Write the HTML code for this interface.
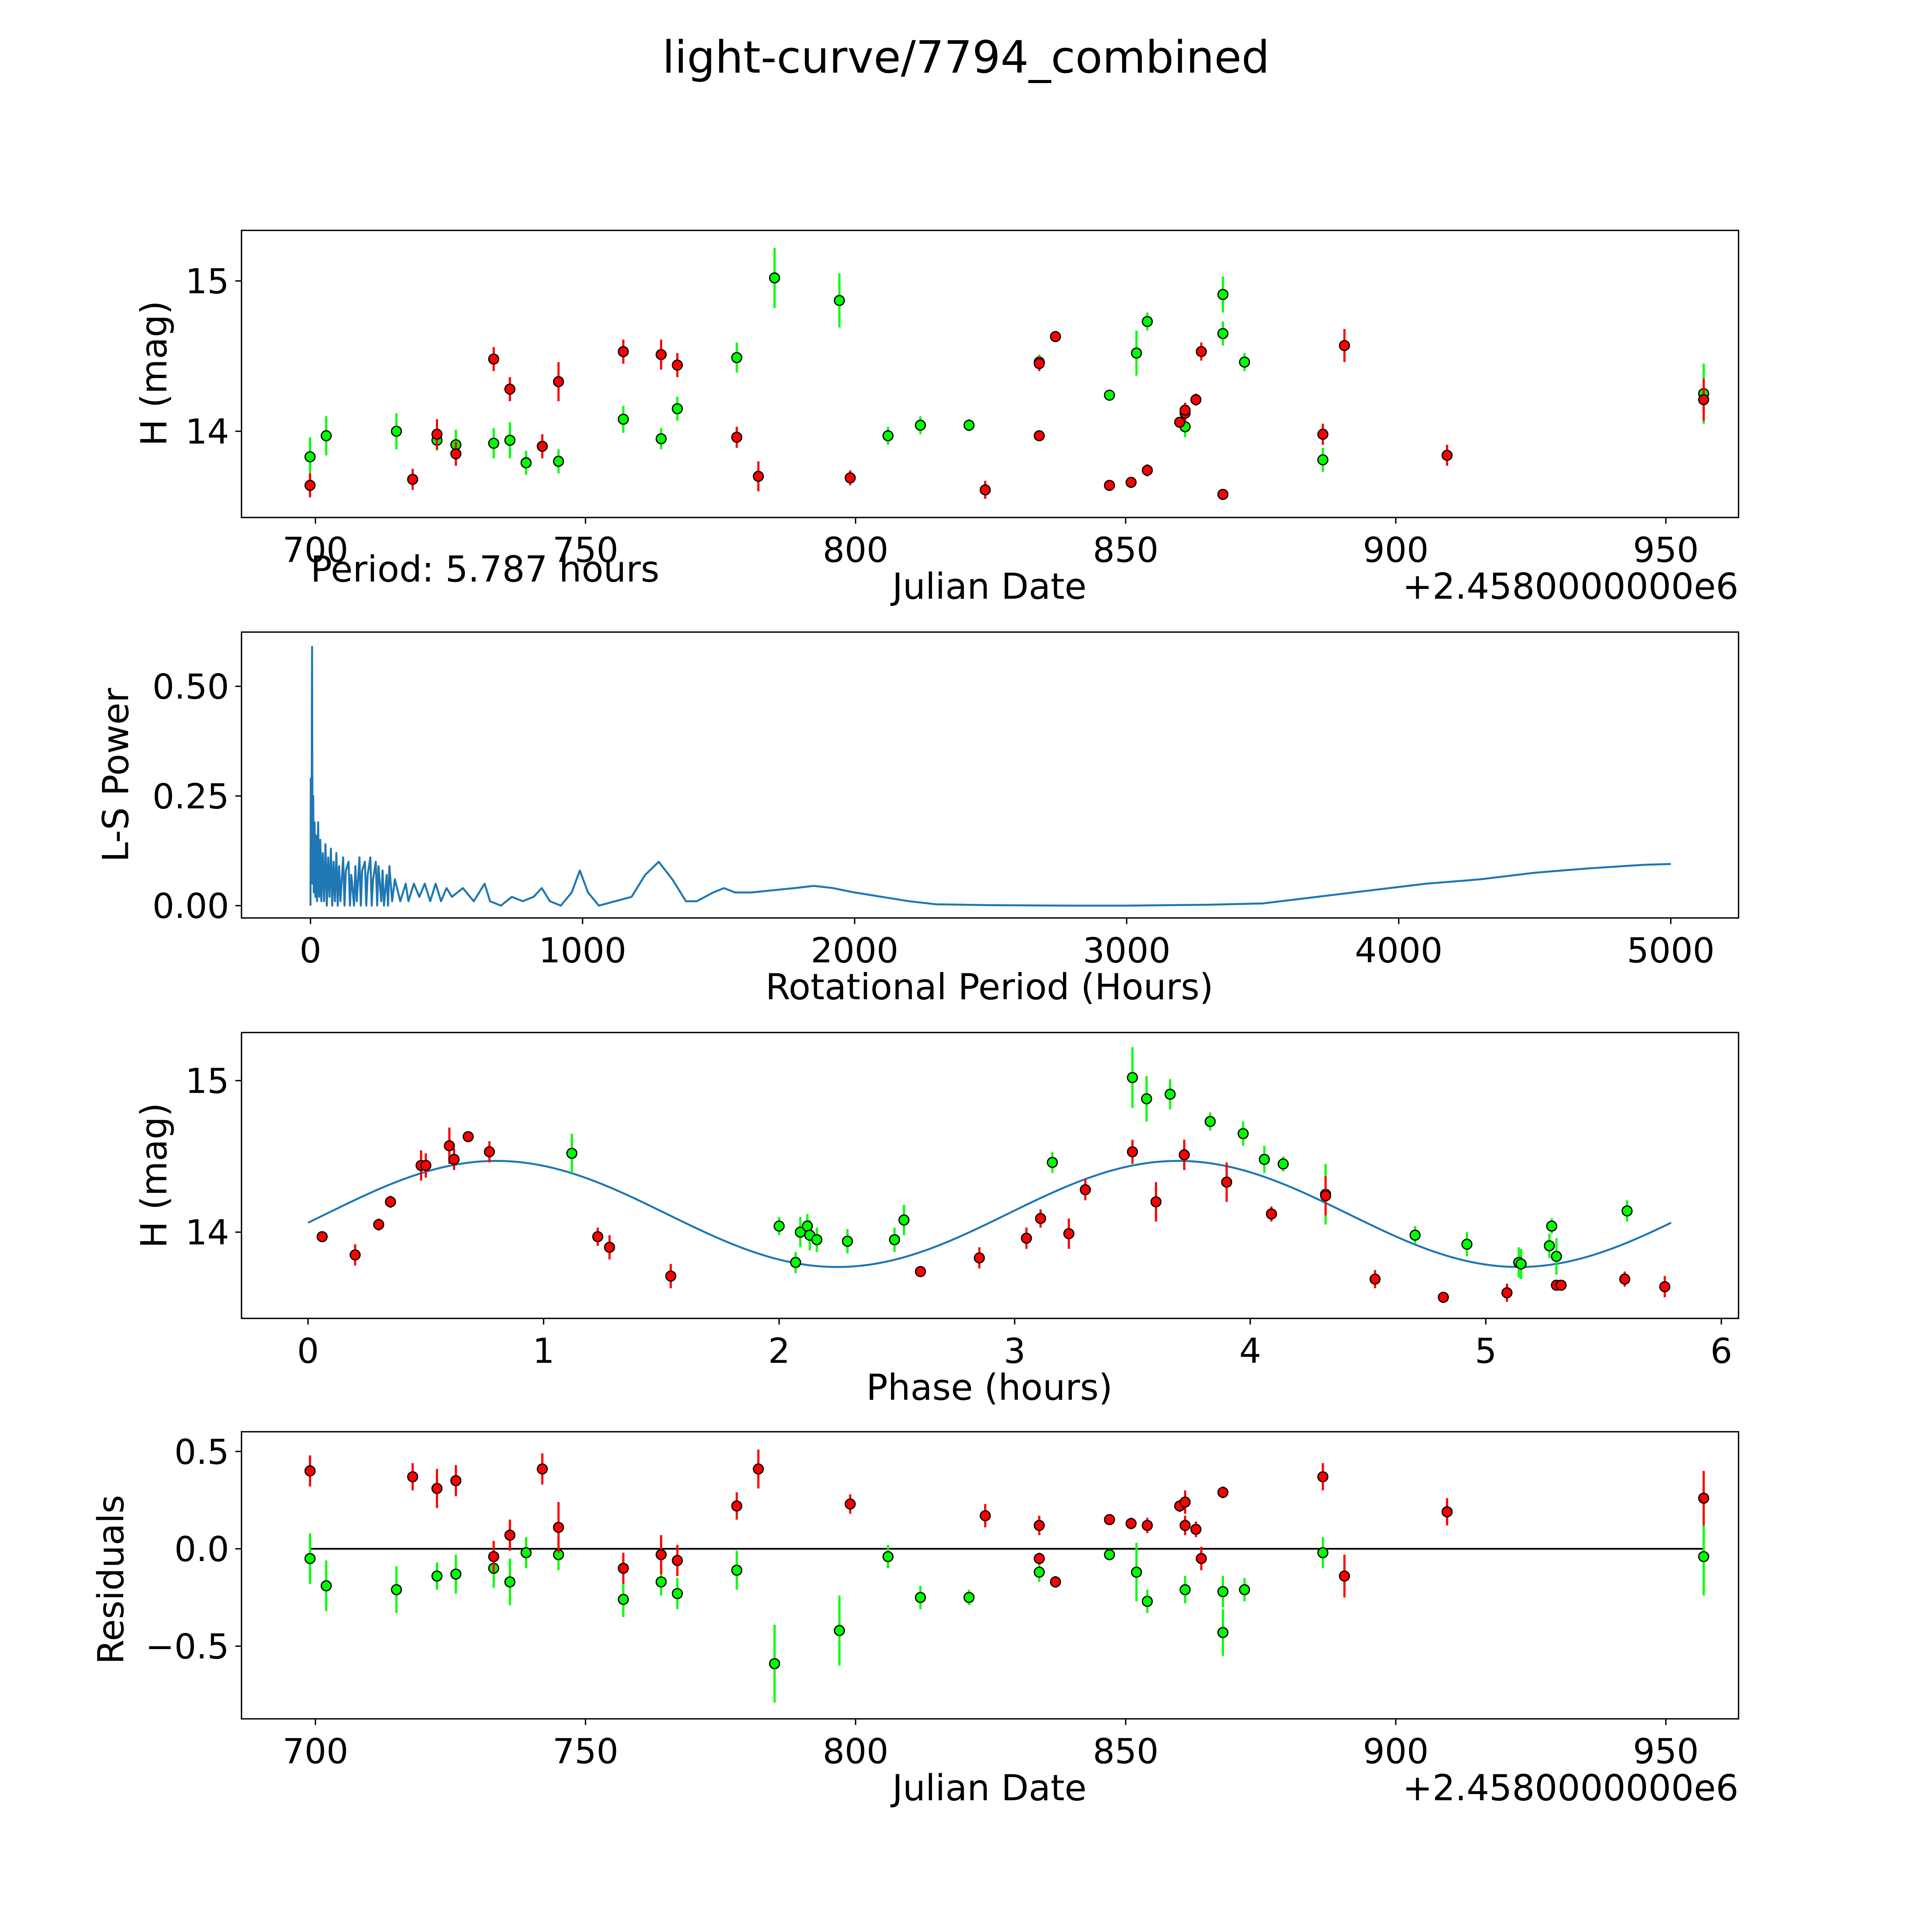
<!DOCTYPE html>
<html><head><meta charset="utf-8"><style>html,body{margin:0;padding:0;background:#fff;overflow:hidden}svg{display:block;width:100vw;height:100vh}</style></head>
<body>
<svg id="chart" xmlns="http://www.w3.org/2000/svg" viewBox="0 0 1568 1568" preserveAspectRatio="none" font-family="'DejaVu Sans', 'Liberation Sans', sans-serif">
<rect width="1568" height="1568" fill="#fff"/>
<text x="784" y="59" font-size="36" text-anchor="middle">light-curve/7794_combined</text>
<g id="g1"></g><g id="g2"></g><g id="g3"></g><g id="g4"></g>
</svg>
<script>
// ---- data ----
const greenDate = [699,702,715,722.5,726,733,736,739,745,757,764,767,778,785,797,806,812,821,834,847,852,854,861,868,868,872,886.5,957];
const greenMag = [13.83,13.97,14.0,13.94,13.91,13.92,13.94,13.79,13.80,14.08,13.95,14.15,14.49,15.02,14.87,13.97,14.04,14.04,14.46,14.24,14.52,14.73,14.03,14.91,14.65,14.46,13.81,14.25];
const greenErr = [0.13,0.13,0.12,0.07,0.10,0.10,0.12,0.08,0.08,0.09,0.07,0.08,0.10,0.20,0.18,0.06,0.06,0.04,0.05,0.03,0.15,0.06,0.07,0.12,0.08,0.06,0.08,0.20];
const greenResid = [-0.05,-0.19,-0.21,-0.14,-0.13,-0.10,-0.17,-0.02,-0.03,-0.26,-0.17,-0.23,-0.11,-0.59,-0.42,-0.04,-0.25,-0.25,-0.12,-0.03,-0.12,-0.27,-0.21,-0.43,-0.22,-0.21,-0.02,-0.04];
const redDate = [699,718,722.5,726,733,736,742,745,757,764,767,778,782,799,824,834,834,837,847,851,854,860,861,861,863,864,868,886.5,890.5,909.5,957];
const redMag = [13.64,13.68,13.98,13.85,14.48,14.28,13.90,14.33,14.53,14.51,14.44,13.96,13.70,13.69,13.61,14.45,13.97,14.63,13.64,13.66,13.74,14.06,14.12,14.14,14.21,14.53,13.58,13.98,14.57,13.84,14.21];
const redErr = [0.08,0.07,0.10,0.08,0.08,0.08,0.08,0.13,0.08,0.10,0.08,0.07,0.10,0.05,0.06,0.05,0.03,0.03,0.02,0.03,0.04,0.03,0.06,0.05,0.04,0.06,0.03,0.07,0.11,0.07,0.14];
const redResid = [0.40,0.37,0.31,0.35,-0.04,0.07,0.41,0.11,-0.10,-0.03,-0.06,0.22,0.41,0.23,0.17,0.12,-0.05,-0.17,0.15,0.13,0.12,0.22,0.24,0.12,0.10,-0.05,0.29,0.37,-0.14,0.19,0.26];
const redPhase = [0.06,0.2,0.3,0.35,0.48,0.5,0.6,0.62,0.68,0.77,1.23,1.28,1.54,2.6,2.85,3.05,3.11,3.23,3.3,3.5,3.6,3.72,3.9,4.09,4.32,4.53,4.82,5.09,5.3,5.32,5.59,5.76];
const redPhaseMag = [13.97,13.85,14.05,14.2,14.44,14.44,14.57,14.48,14.63,14.53,13.97,13.9,13.71,13.74,13.83,13.96,14.09,13.99,14.28,14.53,14.2,14.51,14.33,14.12,14.24,13.69,13.57,13.6,13.65,13.65,13.69,13.64];
const redPhaseErr = [0.03,0.07,0.04,0.04,0.1,0.08,0.12,0.07,0.03,0.07,0.06,0.08,0.08,0.03,0.07,0.07,0.06,0.1,0.07,0.08,0.13,0.1,0.13,0.05,0.13,0.06,0.03,0.06,0.03,0.03,0.05,0.07];
const greenPhase = [1.12,2.0,2.07,2.09,2.12,2.13,2.16,2.29,2.49,2.53,3.16,3.5,3.56,3.66,3.83,3.97,4.06,4.14,4.32,4.7,4.92,5.14,5.15,5.27,5.28,5.3,5.6];
const greenPhaseMag = [14.52,14.04,13.8,14.0,14.04,13.98,13.95,13.94,13.95,14.08,14.46,15.02,14.88,14.91,14.73,14.65,14.48,14.45,14.25,13.98,13.92,13.8,13.79,13.91,14.04,13.84,14.14];
const greenPhaseErr = [0.13,0.06,0.07,0.1,0.08,0.1,0.08,0.08,0.08,0.1,0.07,0.2,0.15,0.1,0.06,0.08,0.09,0.05,0.2,0.06,0.08,0.1,0.1,0.08,0.05,0.12,0.07];
const fitMean = [14.12], fitAmp = [0.35], fitPeriod = [5.787/2], fitPhase = [-0.166];
const lsPeriod = [0,1,2,3,4,5,5.8,7,8,10,12,15,18,20,24,28,32,36,40,45,50,55,60,65,70,75,80,85,90,95,100,105,110,120,125,130,140,145,150,160,165,170,180,185,190,200,205,210,220,225,230,240,245,250,260,265,270,280,285,290,300,310,330,350,360,380,400,420,440,460,480,500,520,560,600,640,660,700,740,780,820,850,880,920,960,990,1020,1060,1120,1180,1230,1280,1330,1380,1420,1480,1520,1560,1620,1700,1780,1850,1920,2000,2100,2200,2300,2500,2800,3000,3300,3500,3700,3900,4100,4300,4500,4700,4900,5000];
const lsPower = [0,0.29,0.05,0.25,0.1,0.44,0.59,0.2,0.05,0.25,0.03,0.19,0.02,0.16,0.01,0.19,0.02,0.15,0.01,0.12,0.01,0.14,0.0,0.11,0.02,0.13,0.0,0.1,0.01,0.12,0.0,0.09,0.01,0.11,0.0,0.08,0.1,0.0,0.07,0.0,0.09,0.01,0.11,0.0,0.08,0.1,0.0,0.07,0.11,0.0,0.06,0.1,0.0,0.09,0.01,0.08,0.0,0.07,0.0,0.09,0.01,0.06,0.01,0.05,0.01,0.05,0.02,0.05,0.01,0.05,0.01,0.04,0.02,0.04,0.01,0.05,0.01,0.0,0.02,0.01,0.02,0.04,0.01,0.0,0.03,0.08,0.03,0.0,0.01,0.02,0.07,0.1,0.06,0.01,0.01,0.03,0.04,0.03,0.03,0.035,0.04,0.045,0.04,0.03,0.02,0.01,0.003,0.001,0.0,0.0,0.002,0.005,0.02,0.035,0.05,0.06,0.075,0.085,0.093,0.095];
const dateTicks = [700,750,800,850,900,950];
const magTicks = [14,15];
const lsXTicks = [0,1000,2000,3000,4000,5000];
const lsYTicks = [0,0.25,0.5];
const lsYLabels = ['0.00','0.25','0.50'];
const phaseTicks = [0,1,2,3,4,5,6];
const residTicks = [-0.5,0,0.5];
const residLabels = ['−0.5','0.0','0.5'];

const NS='http://www.w3.org/2000/svg';
function el(tag, attrs, parent, txt){const e=document.createElementNS(NS,tag);for(const k in attrs)e.setAttribute(k,attrs[k]);if(txt!==undefined)e.textContent=txt;parent.appendChild(e);return e;}
function lin(d0,d1,r0,r1){return v=>r0+(v-d0)*(r1-r0)/(d1-d0);}
const L=196,R=1411;

function frame(g,top,bot){
  const r=el('rect',{x:L,y:top,width:R-L,height:bot-top,fill:'none',stroke:'#000','stroke-width':1.1},g);
  
  
}
function xticks(g,ticks,labels,x,bot,name){
  ticks.forEach((t,i)=>{
    const px=x(t);
    el('line',{x1:px,x2:px,y1:bot,y2:bot+5,stroke:'#000','stroke-width':1.1},g);
    const tx=el('text',{x:px,y:bot+36,'font-size':28,'text-anchor':'middle'},g,labels?labels[i]:String(t));
    
    
  });
}
function yticks(g,ticks,labels,y,name){
  ticks.forEach((t,i)=>{
    const py=y(t);
    el('line',{x1:L-5,x2:L,y1:py,y2:py,stroke:'#000','stroke-width':1.1},g);
    const tx=el('text',{x:L-10,y:py+10,'font-size':28,'text-anchor':'end'},g,labels?labels[i]:String(t));
    
    
  });
}
function label(g,txt,x,y,rot,name){
  const t=el('text',{x:x,y:y,'font-size':29,'text-anchor':'middle',transform:rot?`rotate(-90 ${x} ${y})`:''},g,txt);
  
  
}
function points(g,xs,ys,es,col,x,y,name){
  xs.forEach((xv,i)=>{
    const px=x(xv);
    el('line',{x1:px,x2:px,y1:y(ys[i]-es[i]),y2:y(ys[i]+es[i]),stroke:col,'stroke-width':1.8},g);
  });
  xs.forEach((xv,i)=>{
    const c=el('circle',{cx:x(xv),cy:y(ys[i]),r:4,fill:col,stroke:'#000','stroke-width':1},g);
    
    
  });
}
const G='#00ff00',Rd='#ff0000';

// Panel 1
(function(){
  const g=document.getElementById('g1');
  
  
  const top=187,bot=420;
  const x=lin(700,950,256,1352), y=lin(14,15,350,228);
  points(g,greenDate,greenMag,greenErr,G,x,y,'green-point');
  points(g,redDate,redMag,redErr,Rd,x,y,'red-point');
  frame(g,top,bot);
  xticks(g,dateTicks,null,x,bot,'x');
  yticks(g,magTicks,null,y,'y');
  label(g,'Julian Date',803,486,false,'x-axis-title');
  const o=el('text',{x:R,y:486,'font-size':29,'text-anchor':'end'},g,'+2.4580000000e6');
  
  
  label(g,'H (mag)',135,303,true,'y-axis-title');
  const p=el('text',{x:252,y:472,'font-size':29},g,'Period: 5.787 hours');
  
  
})();

// Panel 2
(function(){
  const g=document.getElementById('g2');
  
  
  const top=513,bot=745;
  const x=lin(0,5000,252,1356), y=lin(0,0.5,735,557);
  const d=lsPeriod.map((p,i)=>(i?'L':'M')+x(p).toFixed(2)+' '+y(lsPower[i]).toFixed(2)).join(' ');
  const pth=el('path',{d:d,fill:'none',stroke:'#1f77b4','stroke-width':1.6,'stroke-linejoin':'round'},g);
  
  
  frame(g,top,bot);
  xticks(g,lsXTicks,null,x,bot,'x');
  yticks(g,lsYTicks,lsYLabels,y,'y');
  label(g,'Rotational Period (Hours)',803,811,false,'x-axis-title');
  label(g,'L-S Power',104,629,true,'y-axis-title');
})();

// Panel 3
(function(){
  const g=document.getElementById('g3');
  
  
  const top=838,bot=1070;
  const x=lin(0,6,250,1397), y=lin(14,15,1000,877);
  let d='';
  for(let i=0;i<=300;i++){const ph=5.787*i/300;const v=fitMean[0]+fitAmp[0]*Math.sin(2*Math.PI*ph/fitPeriod[0]+fitPhase[0]);d+=(i?'L':'M')+x(ph).toFixed(2)+' '+y(v).toFixed(2)+' ';}
  const pth=el('path',{d:d,fill:'none',stroke:'#1f77b4','stroke-width':1.6},g);
  
  
  points(g,greenPhase,greenPhaseMag,greenPhaseErr,G,x,y,'green-point');
  points(g,redPhase,redPhaseMag,redPhaseErr,Rd,x,y,'red-point');
  frame(g,top,bot);
  xticks(g,phaseTicks,null,x,bot,'x');
  yticks(g,magTicks,null,y,'y');
  label(g,'Phase (hours)',803,1136,false,'x-axis-title');
  label(g,'H (mag)',135,954,true,'y-axis-title');
})();

// Panel 4
(function(){
  const g=document.getElementById('g4');
  
  
  const top=1162,bot=1395;
  const x=lin(700,950,256,1352), y=lin(0,0.5,1257,1178);
  const zl=el('line',{x1:x(699),x2:x(957),y1:y(0),y2:y(0),stroke:'#000','stroke-width':1.4},g);
  
  
  points(g,greenDate,greenResid,greenErr,G,x,y,'green-residual');
  points(g,redDate,redResid,redErr,Rd,x,y,'red-residual');
  frame(g,top,bot);
  xticks(g,dateTicks,null,x,bot,'x');
  yticks(g,residTicks,residLabels,y,'y');
  label(g,'Julian Date',803,1461,false,'x-axis-title');
  const o=el('text',{x:R,y:1461,'font-size':29,'text-anchor':'end'},g,'+2.4580000000e6');
  
  
  label(g,'Residuals',100,1282,true,'y-axis-title');
})();
</script>
</body></html>
